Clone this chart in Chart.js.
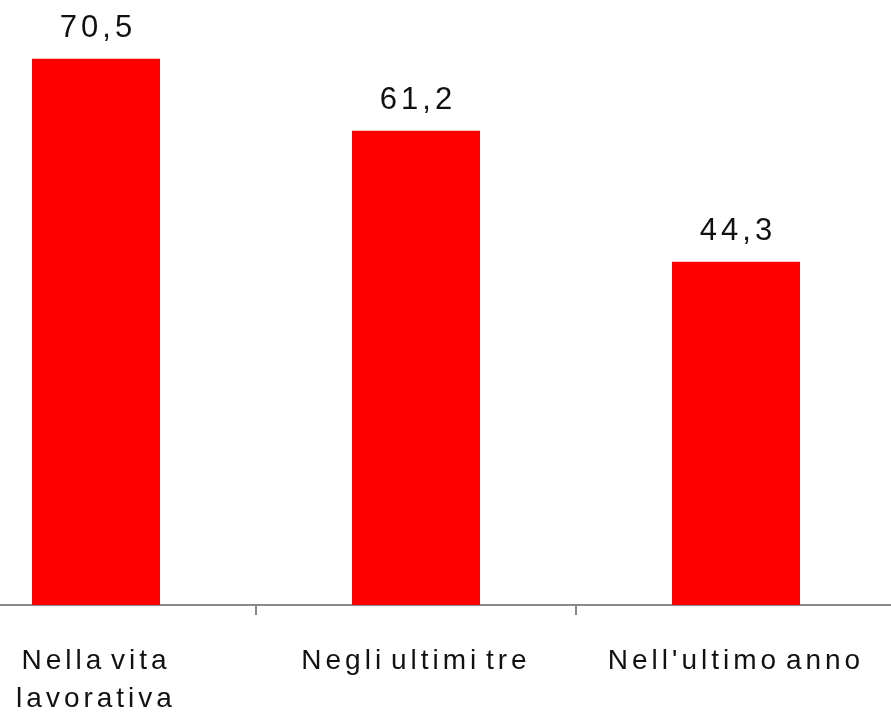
<!DOCTYPE html>
<html lang="it">
<head>
  <meta charset="UTF-8">
  <title>Nella vita lavorativa</title>
  <style>
    body {
      margin: 0;
      padding: 0;
      background-color: #fff;
      overflow: hidden;
      width: 891px;
      height: 713px;
      position: relative;
    }
    #grafico {
      position: absolute;
      left: -64px;
      top: -15px;
    }
  </style>
</head>
<body>
  <canvas id="grafico" width="960" height="743"></canvas>

  <script src="https://cdn.jsdelivr.net/npm/chart.js"></script>
  <script>
    const categorie = [['Nella vita', 'lavorativa'], 'Negli ultimi tre', "Nell'ultimo anno"];
    const valori = [70.5, 61.2, 44.3];
    const asseMax = 80;

    // spaziatura larga delle lettere, come nell'originale
    const spaziatura = {
      id: 'spaziatura',
      beforeUpdate(chart) { chart.ctx.letterSpacing = '4px'; chart.ctx.wordSpacing = '-6px'; },
      beforeDraw(chart) { chart.ctx.letterSpacing = '4px'; chart.ctx.wordSpacing = '-6px'; }
    };

    // etichette dei valori sopra le barre
    const etichette = {
      id: 'etichette',
      afterDatasetsDraw(chart) {
        const ctx = chart.ctx;
        const meta = chart.getDatasetMeta(0);
        ctx.save();
        ctx.font = '31px "Liberation Sans", Arial, sans-serif';
        ctx.letterSpacing = '4px';
        ctx.fillStyle = '#111';
        ctx.textAlign = 'center';
        ctx.textBaseline = 'alphabetic';
        meta.data.forEach(function(bar, i) {
          const testo = valori[i].toFixed(1).replace('.', ',');
          ctx.fillText(testo, bar.x + 2, bar.y - 22);
        });
        ctx.restore();
      }
    };

    new Chart(document.getElementById('grafico'), {
      type: 'bar',
      data: {
        labels: categorie,
        datasets: [{
          data: valori,
          backgroundColor: '#ff0000',
          borderWidth: 0,
          barPercentage: 0.4,
          categoryPercentage: 1
        }]
      },
      options: {
        responsive: false,
        animation: false,
        events: [],
        layout: { padding: 0 },
        plugins: {
          legend: { display: false },
          tooltip: { enabled: false }
        },
        scales: {
          x: {
            border: { display: true, color: '#888888', width: 2 },
            grid: {
              display: true,
              drawOnChartArea: false,
              drawTicks: true,
              tickLength: 10,
              color: '#888888',
              lineWidth: 2
            },
            ticks: {
              color: '#111',
              padding: 27,
              maxRotation: 0,
              autoSkip: false,
              font: { family: '"Liberation Sans", Arial, sans-serif', size: 28, lineHeight: 1.36 }
            },
            afterFit: function(scale) { scale.height = 123; }
          },
          y: {
            display: false,
            min: 0,
            max: asseMax
          }
        }
      },
      plugins: [spaziatura, etichette]
    });
  </script>
</body>
</html>
